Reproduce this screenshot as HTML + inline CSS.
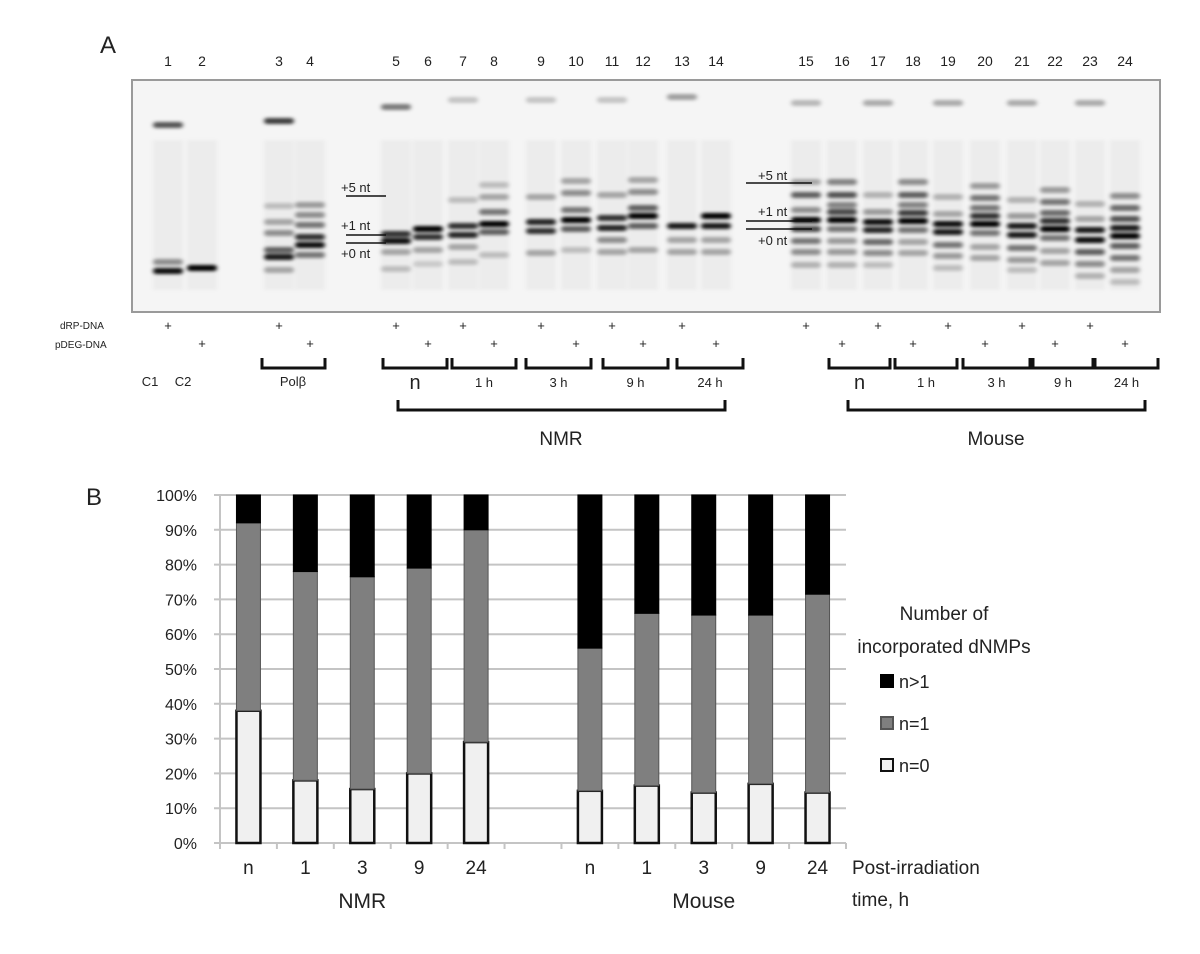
<!DOCTYPE html>
<html><head><meta charset="utf-8">
<style>
html,body{margin:0;padding:0;background:#fff;}
body{width:1200px;height:949px;overflow:hidden;font-family:"Liberation Sans",sans-serif;}
svg text{font-family:"Liberation Sans",sans-serif;fill:#222;}
</style></head>
<body>
<svg id="fig" width="1200" height="949" viewBox="0 0 1200 949" xmlns="http://www.w3.org/2000/svg">
<defs>
<filter id="blur" x="-20%" y="-200%" width="140%" height="500%"><feGaussianBlur stdDeviation="2.2 1.6"/></filter>
</defs>
<text x="100" y="53" font-size="24">A</text>
<text x="86" y="505" font-size="24">B</text>
<rect x="132" y="80" width="1028" height="232" fill="#f5f5f5" stroke="#9a9a9a" stroke-width="2"/>
<g id="gel" filter="url(#blur)"></g>
<g id="gelann"></g>
<g id="chart"></g>
</svg>
<script>
const NS="http://www.w3.org/2000/svg";
function mk(tag,attrs,parent,text){const e=document.createElementNS(NS,tag);for(const k in attrs)e.setAttribute(k,attrs[k]);if(text!==undefined)e.textContent=text;parent.appendChild(e);return e;}

/* ---------- Gel (panel A) ---------- */
const laneNumbers=[1,2,3,4,5,6,7,8,9,10,11,12,13,14,15,16,17,18,19,20,21,22,23,24];
const laneX=[168,202,279,310,396,428,463,494,541,576,612,643,682,716,806,842,878,913,948,985,1022,1055,1090,1125];
const laneBands=[
 [[125,.65],[262,.4],[271,.95]],
 [[268,1]],
 [[121,.75],[206,.2],[222,.3],[233,.4],[250,.6],[257,.9],[270,.3]],
 [[205,.35],[215,.4],[225,.5],[237,.8],[245,.95],[255,.5]],
 [[107,.5],[234,.8],[241,.95],[252,.3],[269,.2]],
 [[229,1],[237,.8],[250,.3],[264,.15]],
 [[100,.2],[200,.2],[226,.8],[235,.85],[247,.3],[262,.2]],
 [[185,.2],[197,.3],[212,.5],[224,1],[232,.6],[255,.2]],
 [[100,.2],[197,.3],[222,.85],[231,.8],[253,.3]],
 [[181,.3],[193,.4],[210,.5],[220,1],[229,.6],[250,.2]],
 [[100,.2],[195,.3],[218,.8],[228,.85],[240,.4],[252,.3]],
 [[180,.3],[192,.4],[208,.6],[216,1],[226,.6],[250,.3]],
 [[97,.35],[226,.9],[240,.3],[252,.3]],
 [[216,1],[226,.9],[240,.3],[252,.3]],
 [[103,.25],[182,.3],[195,.6],[210,.4],[220,1],[229,.7],[241,.5],[252,.4],[265,.25]],
 [[182,.45],[195,.65],[205,.45],[212,.7],[220,1],[229,.5],[241,.35],[252,.35],[265,.25]],
 [[103,.3],[195,.25],[212,.35],[222,.95],[230,.85],[242,.55],[253,.4],[265,.2]],
 [[182,.4],[195,.6],[205,.45],[213,.75],[221,1],[230,.5],[242,.3],[253,.3]],
 [[103,.3],[197,.25],[214,.3],[224,.95],[232,.9],[245,.5],[256,.35],[268,.2]],
 [[186,.35],[198,.5],[208,.5],[216,.8],[224,1],[233,.5],[247,.3],[258,.3]],
 [[103,.3],[200,.25],[216,.35],[226,.9],[235,.9],[248,.5],[260,.35],[270,.2]],
 [[190,.35],[202,.5],[213,.55],[221,.8],[229,1],[238,.5],[251,.3],[263,.3]],
 [[103,.3],[204,.25],[219,.3],[230,.9],[240,.95],[252,.6],[264,.4],[276,.25]],
 [[196,.4],[208,.55],[219,.65],[228,.9],[236,1],[246,.6],[258,.5],[270,.3],[282,.2]]
];
const gel=document.getElementById('gel');
const ann=document.getElementById('gelann');
laneX.forEach((x,i)=>{
  const lb=mk('text',{x:x,y:66,'font-size':14,'text-anchor':'middle'},ann,String(laneNumbers[i]));
  
  
  const sm=mk('rect',{x:x-15,y:140,width:30,height:150,fill:'#000',opacity:0.035},gel);
  
  
  laneBands[i].forEach(b=>{
    const r=mk('rect',{x:x-15,y:b[0]-3,width:30,height:6,rx:3,fill:'#000',opacity:b[1]},gel);
    
    
  });
});
function T(x,y,s,txt,name,anchor,size){const t=mk('text',{x:x,y:y,'font-size':size,'text-anchor':anchor||'start'},ann,txt);return t;}
function L(x1,y1,x2,y2,w,name){const l=mk('line',{x1:x1,y1:y1,x2:x2,y2:y2,stroke:'#111','stroke-width':w||2},ann);}
// size markers
T(341,192,0,'+5 nt','marker-5nt-left','start',13);L(346,196,386,196,1.5,'marker-line');
T(341,230,0,'+1 nt','marker-1nt-left','start',13);L(346,235,386,235,1.5,'marker-line');
L(346,243,386,243,1.5,'marker-line');
T(341,258,0,'+0 nt','marker-0nt-left','start',13);
T(758,180,0,'+5 nt','marker-5nt-right','start',13);L(746,183,812,183,1.5,'marker-line');
T(758,216,0,'+1 nt','marker-1nt-right','start',13);L(746,221,812,221,1.5,'marker-line');
L(746,229,812,229,1.5,'marker-line');
T(758,245,0,'+0 nt','marker-0nt-right','start',13);
T(60,329,0,'dRP-DNA','drp-dna-label','start',10);
T(55,348,0,'pDEG-DNA','pdeg-dna-label','start',10);
laneX.forEach((x,i)=>{const row=(i%2===0)?329:347;T(x,row+1,0,'+','plus-sign','middle',13);});
function bracket(x1,x2,y,h,w,name){const p=mk('path',{d:`M${x1},${y} L${x1},${y+h} L${x2},${y+h} L${x2},${y}`,fill:'none',stroke:'#111','stroke-width':w||3},ann);}
bracket(262,325,358,10,3,'bracket-polb');
[[383,447,'n'],[452,516,'1 h'],[526,591,'3 h'],[603,668,'9 h'],[677,743,'24 h']].forEach(b=>{bracket(b[0],b[1],358,10,3,'bracket-nmr-'+b[2]);T((b[0]+b[1])/2,b[2]==='n'?389:387,0,b[2],'group-label','middle',b[2]==='n'?20:13);});
[[829,890,'n'],[895,957,'1 h'],[963,1030,'3 h'],[1033,1093,'9 h'],[1095,1158,'24 h']].forEach(b=>{bracket(b[0],b[1],358,10,3,'bracket-mouse-'+b[2]);T((b[0]+b[1])/2,b[2]==='n'?389:387,0,b[2],'group-label','middle',b[2]==='n'?20:13);});
T(150,386,0,'C1','c1-label','middle',13);T(183,386,0,'C2','c2-label','middle',13);
T(293,386,0,'Polβ','polb-label','middle',13);
bracket(398,725,400,10,3,'bracket-nmr');
bracket(848,1145,400,10,3,'bracket-mouse');
T(561,445,0,'NMR','nmr-gel-label','middle',19);
T(996,445,0,'Mouse','mouse-gel-label','middle',19);

/* ---------- Stacked bar chart (panel B) ---------- */
const categories=['n','1','3','9','24','','n','1','3','9','24'];
const n0=[38,18,15.5,20,29,null,15,16.5,14.5,17,14.5];
const n1=[54,60,61,59,61,null,41,49.5,51,48.5,57];
const nGt1=[8,22,23.5,21,10,null,44,34,34.5,34.5,28.5];
const yTicks=[0,10,20,30,40,50,60,70,80,90,100];
const yTickLabels=['0%','10%','20%','30%','40%','50%','60%','70%','80%','90%','100%'];

const ch=document.getElementById('chart');
const X0=220,X1=846,Y0=843,Y1=495;
const band=(X1-X0)/categories.length;
const yS=v=>Y0-(v/100)*(Y0-Y1);
const xC=i=>X0+band*(i+0.5);
yTicks.forEach((t,i)=>{
  const g=mk('line',{x1:X0-6,x2:X1,y1:yS(t),y2:yS(t),stroke:'#c4c4c4','stroke-width':2},ch);
  
  
  const l=mk('text',{x:197,y:yS(t)+6,'font-size':16,'text-anchor':'end',fill:'#333'},ch,yTickLabels[i]);
  
  
});
const ax=mk('line',{x1:X0,x2:X0,y1:Y1,y2:Y0+6,stroke:'#c4c4c4','stroke-width':2},ch);


for(let i=0;i<=categories.length;i++){
  const tk=mk('line',{x1:X0+band*i,x2:X0+band*i,y1:Y0,y2:Y0+6,stroke:'#c4c4c4','stroke-width':2},ch);
  
  
}
const bw=24;
categories.forEach((c,i)=>{
  if(n0[i]===null)return;
  const cx=xC(i);
  const segs=[[0,n0[i],'#f0f0f0','#111',2.5,'bar-n0'],[n0[i],n0[i]+n1[i],'#7f7f7f','#555',1,'bar-n1'],[n0[i]+n1[i],n0[i]+n1[i]+nGt1[i],'#000','#000',1,'bar-ngt1']];
  segs.forEach(s=>{
    const r=mk('rect',{x:cx-bw/2,y:yS(s[1]),width:bw,height:yS(s[0])-yS(s[1]),fill:s[2],stroke:s[3],'stroke-width':s[4]},ch);
    
    
  });
  const t=mk('text',{x:cx,y:874,'font-size':19,'text-anchor':'middle',fill:'#222'},ch,c);
  
  
});
function CT(x,y,txt,name,anchor,size){const t=mk('text',{x:x,y:y,'font-size':size||19,'text-anchor':anchor||'start',fill:'#222'},ch,txt);}
CT(xC(2),908,'NMR','group-label-nmr','middle',21);
CT(xC(8),908,'Mouse','group-label-mouse','middle',21);
CT(852,874,'Post-irradiation','x-axis-title');
CT(852,906,'time, h','x-axis-title-line2');
CT(944,620,'Number of','legend-title','middle');
CT(944,653,'incorporated dNMPs','legend-title-line2','middle');
[['#000','#000','n>1',681],['#7f7f7f','#555','n=1',723],['#f0f0f0','#111','n=0',765]].forEach(l=>{
  const r=mk('rect',{x:881,y:l[3]-6,width:12,height:12,fill:l[0],stroke:l[1],'stroke-width':2},ch);
  
  
  CT(899,l[3]+7,l[2],'legend-entry','start',18);
});
</script>
</body></html>
